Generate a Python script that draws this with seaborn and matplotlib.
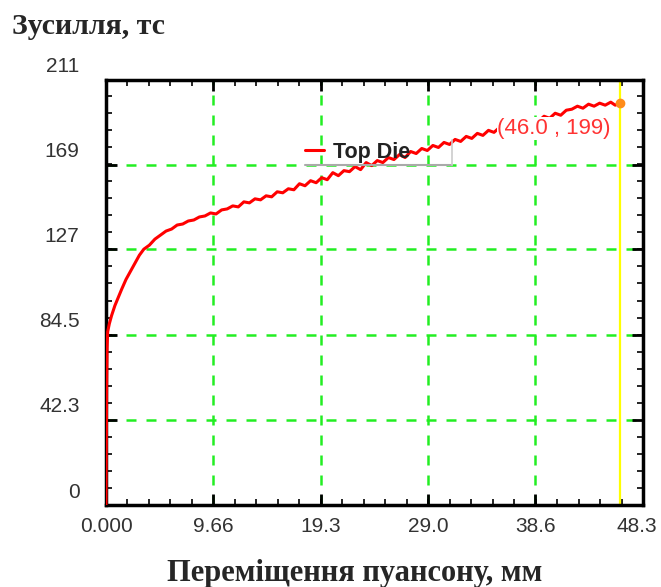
import matplotlib
matplotlib.use("Agg")
import matplotlib.pyplot as plt
import matplotlib.transforms as mtransforms
from matplotlib.ticker import FixedLocator, AutoMinorLocator
import seaborn as sns
import pandas as pd

# ---- data ----
displacement = [0, 0.03, 0.06, 0.1, 0.15, 0.3, 0.5, 0.8, 1.1, 1.4, 1.8, 2.2, 2.6, 3.0, 3.4,
                3.9, 4.4, 4.9, 5.4, 5.9, 6.4, 6.9, 7.4, 7.9, 8.4, 8.9, 9.4, 9.9, 10.4, 10.9,
                11.4, 11.9, 12.4, 12.9, 13.4, 13.9, 14.4, 14.9, 15.4, 15.9, 16.4, 16.9, 17.4,
                17.9, 18.4, 18.9, 19.4, 19.9, 20.4, 20.9, 21.4, 21.9, 22.4, 22.9, 23.4, 23.9,
                24.4, 24.9, 25.4, 25.9, 26.4, 26.9, 27.4, 27.9, 28.4, 28.9, 29.4, 29.9, 30.4,
                30.9, 31.4, 31.9, 32.4, 32.9, 33.4, 33.9, 34.4, 34.9, 35.4, 35.9, 36.4, 36.9,
                37.4, 37.9, 38.4, 38.9, 39.4, 39.9, 40.4, 40.9, 41.4, 41.9, 42.4, 42.9, 43.4,
                43.9, 44.4, 44.9, 45.4, 45.8, 46.2]
force = [0, 30, 60, 78, 86, 90, 94, 99, 103, 107, 112, 116, 120, 124, 127,
         129, 132, 134, 136, 137, 139, 139.5, 141, 141.5, 143, 143.5, 145, 144.5, 146.5, 147,
         148.5, 148, 150.5, 150, 152, 151.5, 153.5, 153, 155.5, 155, 157, 156.5, 159.5,
         158.5, 161, 160, 162.5, 161.5, 165, 163.5, 166, 165.5, 168, 166.5, 170, 168.5,
         171, 170, 172.5, 171.5, 174, 172.5, 175.5, 174.5, 177, 176, 178.5, 177.5, 180,
         179, 181.5, 180.5, 183, 182, 184.5, 183.5, 186, 185, 187.5, 186.5, 189, 188,
         190, 189.5, 191.5, 190.5, 193, 192, 194.5, 193.5, 196, 196.5, 198, 197, 199,
         198, 199.5, 198.5, 200, 198.5, 199.5]
series_name = "Top Die"
x_ticks = [0.0, 9.66, 19.3, 29.0, 38.6, 48.3]
x_ticklabels = ["0.000", "9.66", "19.3", "29.0", "38.6", "48.3"]
y_ticks = [0, 42.3, 84.5, 127, 169, 211]
y_ticklabels = ["0", "42.3", "84.5", "127", "169", "211"]
cursor_x = 46.2
cursor_y = 199.5
cursor_label = "(46.0 , 199)"
y_title = "Зусилля, тс"
x_title = "Переміщення пуансону, мм"

df = pd.DataFrame({"x": displacement, "y": force, "series": series_name})

sns.set_style("white")
plt.rcParams["font.family"] = ["Liberation Sans", "DejaVu Sans"]

fig = plt.figure(figsize=(6.61, 5.87), dpi=100)
ax = fig.add_axes([106 / 661, 1 - 505 / 587, (643 - 106) / 661, (505 - 80) / 587])

sns.lineplot(data=df, x="x", y="y", hue="series", palette=["#ff0000"], estimator=None,
             sort=False, linewidth=2.2, ax=ax, zorder=3)

ax.set_xlim(x_ticks[0], x_ticks[-1])
ax.set_ylim(y_ticks[0], y_ticks[-1])
ax.xaxis.set_major_locator(FixedLocator(x_ticks))
ax.yaxis.set_major_locator(FixedLocator(y_ticks))
ax.set_xticklabels(x_ticklabels)
ax.set_yticklabels(y_ticklabels)
ax.xaxis.set_minor_locator(AutoMinorLocator(5))
ax.yaxis.set_minor_locator(AutoMinorLocator(5))
ax.tick_params(which="both", direction="in", top=True, right=True, bottom=True, left=True,
               color="black")
ax.tick_params(which="major", length=8, width=2)
ax.tick_params(which="minor", length=4, width=1.2)
ax.tick_params(axis="x", which="major", pad=9, labelsize=15, labelcolor="#333333")
ax.tick_params(axis="y", which="major", pad=19, labelsize=15, labelcolor="#333333")
for lab in ax.get_yticklabels():
    lab.set_transform(lab.get_transform() + mtransforms.ScaledTranslation(0, 15 / 100, fig.dpi_scale_trans))
xt = ax.get_xticklabels()
xt[-1].set_transform(xt[-1].get_transform() + mtransforms.ScaledTranslation(-6 / 100, 0, fig.dpi_scale_trans))

for s in ax.spines.values():
    s.set_color("black")
    s.set_linewidth(2.5)

ax.grid(True, which="major", color="#22ee22", linestyle=(0, (4, 4)), linewidth=1.8)
ax.set_axisbelow(True)
ax.set_xlabel("")
ax.set_ylabel("")

# cursor line and marker
ax.axvline(cursor_x, color="#ffff00", linewidth=1.6, zorder=2)
ax.plot([cursor_x], [cursor_y], marker="o", color="#ff8c1a", markersize=6, zorder=5)
ax.text(35.2, 187, cursor_label, color="#ff3333", fontsize=16,
        ha="left", va="center", zorder=4,
        bbox=dict(facecolor="white", edgecolor="none", pad=0.5))

# legend
leg = ax.legend(loc="center left", bbox_to_anchor=(0.37, 0.83), frameon=False,
                handlelength=0.9, handletextpad=0.4, borderaxespad=0, borderpad=0,
                prop={"weight": "bold", "size": 15.5})
for t in leg.get_texts():
    t.set_color("#222222")
ax.plot([0.37, 0.644], [0.8, 0.8], transform=ax.transAxes, color="#aaaaaa",
        linewidth=1.5, zorder=6, clip_on=False)
ax.plot([0.644, 0.644], [0.8, 0.86], transform=ax.transAxes, color="#cccccc",
        linewidth=1.2, zorder=6, clip_on=False)

fig.text(12 / 661, 1 - 26 / 587, y_title, fontsize=21.5, fontweight="bold",
         family=["Liberation Serif", "DejaVu Serif"], ha="left", va="center")
fig.text(355 / 661, 1 - 573 / 587, x_title, fontsize=22, fontweight="bold",
         family=["Liberation Serif", "DejaVu Serif"], ha="center", va="center")

fig.savefig("out.png", dpi=100)
